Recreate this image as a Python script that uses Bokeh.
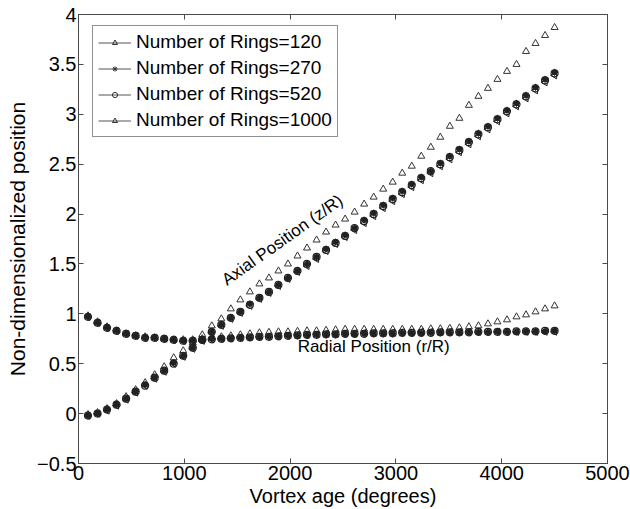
from bokeh.plotting import figure
from bokeh.models import (LinearAxis, Range1d, Legend, LegendItem, FixedTicker,
                          Label, ColumnDataSource, CustomLabelingPolicy)
from bokeh.embed import file_html
from bokeh.resources import INLINE

# ---------------- data ----------------
ages = [90, 180, 270, 360, 450, 540, 630, 720, 810, 900,
        990, 1080, 1170, 1260, 1350, 1440, 1530, 1620, 1710, 1800,
        1890, 1980, 2070, 2160, 2250, 2340, 2430, 2520, 2610, 2700,
        2790, 2880, 2970, 3060, 3150, 3240, 3330, 3420, 3510, 3600,
        3690, 3780, 3870, 3960, 4050, 4140, 4230, 4320, 4410, 4500]

axial_120 = [-0.01, 0.01, 0.05, 0.10, 0.17, 0.24, 0.31, 0.39, 0.47, 0.56,
             0.63, 0.71, 0.79, 0.88, 0.95, 1.05, 1.14, 1.22, 1.30, 1.36,
             1.43, 1.50, 1.58, 1.66, 1.74, 1.82, 1.89, 1.95, 2.02, 2.10,
             2.17, 2.25, 2.32, 2.41, 2.48, 2.58, 2.67, 2.77, 2.88, 2.96,
             3.09, 3.18, 3.26, 3.35, 3.43, 3.50, 3.63, 3.71, 3.79, 3.87]
axial_270 = [-0.02, 0.00, 0.04, 0.09, 0.15, 0.22, 0.29, 0.36, 0.43, 0.51,
             0.58, 0.66, 0.74, 0.82, 0.89, 0.96, 1.02, 1.10, 1.16, 1.22,
             1.29, 1.36, 1.43, 1.50, 1.57, 1.65, 1.72, 1.79, 1.86, 1.94,
             2.01, 2.09, 2.16, 2.23, 2.30, 2.37, 2.43, 2.51, 2.58, 2.65,
             2.73, 2.81, 2.88, 2.96, 3.04, 3.11, 3.19, 3.27, 3.35, 3.42]
axial_520 = [-0.02, 0.00, 0.04, 0.09, 0.15, 0.22, 0.28, 0.36, 0.43, 0.50,
             0.58, 0.66, 0.74, 0.82, 0.89, 0.96, 1.02, 1.09, 1.16, 1.22,
             1.29, 1.36, 1.43, 1.50, 1.57, 1.64, 1.71, 1.78, 1.86, 1.93,
             2.00, 2.08, 2.15, 2.22, 2.29, 2.36, 2.43, 2.50, 2.57, 2.64,
             2.72, 2.80, 2.87, 2.95, 3.03, 3.10, 3.18, 3.26, 3.34, 3.41]
axial_1000 = [-0.02, 0.00, 0.03, 0.08, 0.14, 0.21, 0.28, 0.35, 0.42, 0.50,
              0.57, 0.65, 0.73, 0.81, 0.88, 0.95, 1.01, 1.08, 1.15, 1.21,
              1.28, 1.35, 1.42, 1.48, 1.55, 1.63, 1.70, 1.77, 1.84, 1.91,
              1.98, 2.06, 2.13, 2.20, 2.27, 2.34, 2.41, 2.48, 2.55, 2.62,
              2.70, 2.78, 2.85, 2.93, 3.01, 3.08, 3.16, 3.24, 3.32, 3.39]

radial_120 = [0.98, 0.92, 0.87, 0.83, 0.80, 0.78, 0.77, 0.76, 0.75, 0.74,
              0.74, 0.74, 0.75, 0.76, 0.77, 0.78, 0.79, 0.80, 0.81, 0.815,
              0.82, 0.82, 0.825, 0.83, 0.83, 0.835, 0.84, 0.845, 0.845, 0.845,
              0.845, 0.845, 0.845, 0.845, 0.845, 0.845, 0.85, 0.85, 0.855, 0.86,
              0.87, 0.88, 0.90, 0.92, 0.94, 0.97, 0.99, 1.02, 1.05, 1.08]
radial_270 = [0.97, 0.91, 0.86, 0.83, 0.80, 0.78, 0.76, 0.76, 0.75, 0.74,
              0.73, 0.73, 0.74, 0.75, 0.75, 0.755, 0.76, 0.76, 0.765, 0.77,
              0.775, 0.78, 0.78, 0.785, 0.79, 0.79, 0.79, 0.795, 0.795, 0.80,
              0.80, 0.80, 0.80, 0.805, 0.805, 0.805, 0.81, 0.81, 0.81, 0.81,
              0.815, 0.815, 0.815, 0.82, 0.82, 0.82, 0.825, 0.825, 0.825, 0.83]
radial_520 = [0.97, 0.91, 0.86, 0.83, 0.80, 0.78, 0.76, 0.76, 0.75, 0.74,
              0.73, 0.73, 0.74, 0.745, 0.75, 0.755, 0.76, 0.765, 0.77, 0.77,
              0.775, 0.78, 0.785, 0.79, 0.79, 0.795, 0.795, 0.80, 0.80, 0.80,
              0.805, 0.805, 0.805, 0.81, 0.81, 0.81, 0.81, 0.815, 0.815, 0.815,
              0.815, 0.82, 0.82, 0.82, 0.82, 0.825, 0.825, 0.825, 0.83, 0.83]
radial_1000 = [0.97, 0.91, 0.86, 0.83, 0.80, 0.78, 0.76, 0.76, 0.75, 0.74,
               0.73, 0.73, 0.735, 0.745, 0.75, 0.755, 0.76, 0.765, 0.77, 0.775,
               0.78, 0.785, 0.79, 0.79, 0.795, 0.80, 0.80, 0.805, 0.805, 0.81,
               0.81, 0.81, 0.815, 0.815, 0.815, 0.82, 0.82, 0.82, 0.82, 0.82,
               0.82, 0.82, 0.82, 0.82, 0.82, 0.82, 0.82, 0.82, 0.82, 0.82]

series_labels = ["Number of Rings=120", "Number of Rings=270",
                 "Number of Rings=520", "Number of Rings=1000"]

x_ticks = [0, 1000, 2000, 3000, 4000, 5000]
x_tick_labels = ["0", "1000", "2000", "3000", "4000", "5000"]
y_ticks = [-0.5, 0, 0.5, 1, 1.5, 2, 2.5, 3, 3.5, 4]
y_tick_labels = ["\u22120.5", "0", "0.5", "1", "1.5", "2", "2.5", "3", "3.5", "4"]

x_title = "Vortex age (degrees)"
y_title = "Non-dimensionalized position"
axial_note = "Axial Position (z/R)"
radial_note = "Radial Position (r/R)"

# ---------------- figure ----------------
FONT = "Liberation Sans"
AX = "#4a4a4a"
NAN = float("nan")

p = figure(width=630, height=509, output_backend="svg", toolbar_location=None,
           x_range=Range1d(0, 5000), y_range=Range1d(-0.5, 4),
           min_border_left=78, min_border_right=23, min_border_top=14,
           min_border_bottom=45)
p.xgrid.visible = False
p.ygrid.visible = False
p.outline_line_color = AX
p.background_fill_color = "white"
p.border_fill_color = "white"

hide_all = CustomLabelingPolicy(code="""
for (const i of Array.from(indices)) { indices.unset(i) }
return indices
""")

def style_axis(ax, show_labels):
    ax.major_tick_in = 5
    ax.major_tick_out = 0
    ax.minor_tick_in = 0
    ax.minor_tick_out = 0
    ax.axis_line_color = AX
    ax.major_tick_line_color = AX
    ax.major_label_text_font = FONT
    ax.major_label_text_color = "black"
    ax.axis_label_text_font = FONT
    ax.axis_label_text_font_style = "normal"
    ax.axis_label_text_color = "black"
    if show_labels:
        ax.major_label_text_font_size = "20px"
        ax.axis_label_text_font_size = "20px"
        ax.major_label_standoff = 2
        ax.axis_label_standoff = 2
    else:
        ax.major_label_text_font_size = "2px"
        ax.major_label_standoff = 0
        ax.major_label_policy = hide_all

xt = FixedTicker(ticks=x_ticks)
yt = FixedTicker(ticks=y_ticks)
x_over = {float(t): s for t, s in zip(x_ticks, x_tick_labels)}
y_over = {float(t): s for t, s in zip(y_ticks, y_tick_labels)}

p.xaxis.ticker = xt
p.yaxis.ticker = yt
p.xaxis.major_label_overrides = x_over
p.yaxis.major_label_overrides = y_over
p.xaxis.axis_label = x_title
p.yaxis.axis_label = y_title
style_axis(p.xaxis[0], True)
style_axis(p.yaxis[0], True)
p.yaxis.axis_label_standoff = 5
p.yaxis.axis_label_text_font_size = "21px"

top_ax = LinearAxis(ticker=FixedTicker(ticks=x_ticks))
right_ax = LinearAxis(ticker=FixedTicker(ticks=y_ticks))
style_axis(top_ax, False)
style_axis(right_ax, False)
p.add_layout(top_ax, "above")
p.add_layout(right_ax, "right")

src = ColumnDataSource(data=dict(age=ages,
                                 a120=axial_120, a270=axial_270, a520=axial_520, a1000=axial_1000,
                                 r120=radial_120, r270=radial_270, r520=radial_520, r1000=radial_1000))

MK = "#222222"
# 120 : open triangles
p.scatter("age", "a120", source=src, marker="triangle", size=7,
          line_color="#333333", fill_color=None, line_width=1)
p.scatter("age", "r120", source=src, marker="triangle", size=7,
          line_color="#333333", fill_color=None, line_width=1)
# 1000 : left-pointing triangles
p.scatter("age", "a1000", source=src, marker="triangle", angle=1.5708, size=7,
          line_color=MK, fill_color=None, line_width=1)
p.scatter("age", "r1000", source=src, marker="triangle", angle=1.5708, size=7,
          line_color=MK, fill_color=None, line_width=1)
# 520 : open circles
p.scatter("age", "a520", source=src, marker="circle", size=7,
          line_color=MK, fill_color=None, line_width=1.2)
p.scatter("age", "r520", source=src, marker="circle", size=7,
          line_color=MK, fill_color=None, line_width=1.2)
# 270 : asterisk over dot
p.scatter("age", "a270", source=src, marker="circle", size=5,
          line_color=MK, fill_color=MK, line_width=1)
p.scatter("age", "r270", source=src, marker="circle", size=5,
          line_color=MK, fill_color=MK, line_width=1)
p.scatter("age", "a270", source=src, marker="asterisk", size=7,
          line_color=MK, line_width=1)
p.scatter("age", "r270", source=src, marker="asterisk", size=7,
          line_color=MK, line_width=1)

# legend proxies (line + marker), one NaN point so nothing shows in the plot area
def proxy(marker, fill):
    ps = ColumnDataSource(data=dict(x=[NAN], y=[NAN]))
    ln = p.line("x", "y", source=ps, line_color="#555555", line_width=1)
    mk = p.scatter("x", "y", source=ps, marker=marker, size=6,
                   line_color="#333333", fill_color=fill, line_width=1)
    return [ln, mk]

items = [
    LegendItem(label=series_labels[0], renderers=proxy("triangle", None)),
    LegendItem(label=series_labels[1], renderers=proxy("asterisk", None)),
    LegendItem(label=series_labels[2], renderers=proxy("circle", None)),
    LegendItem(label=series_labels[3], renderers=proxy("triangle", None)),
]

legend = Legend(items=items, location=(14, 326))
legend.label_text_font = FONT
legend.label_text_font_size = "19px"
legend.label_text_color = "black"
legend.glyph_width = 33
legend.glyph_height = 13
legend.label_height = 21
legend.spacing = 4
legend.padding = 5
legend.margin = 0
legend.label_standoff = 5
legend.border_line_color = "#222222"
legend.border_line_width = 1
legend.background_fill_color = "white"
legend.background_fill_alpha = 1.0
p.add_layout(legend)

p.add_layout(Label(x=1928, y=1.74, text=axial_note, angle=0.615,
                   text_align="center", text_baseline="middle",
                   text_font=FONT, text_font_size="17px", text_color="black"))
p.add_layout(Label(x=2790, y=0.67, text=radial_note,
                   text_align="center", text_baseline="middle",
                   text_font=FONT, text_font_size="17px", text_color="black"))

open("out.html", "w").write(file_html(p, INLINE))
